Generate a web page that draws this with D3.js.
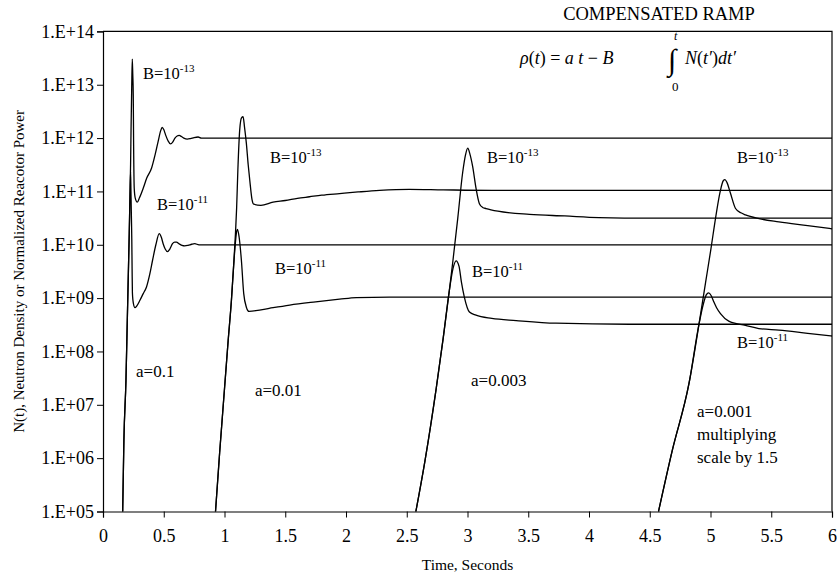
<!DOCTYPE html>
<html>
<head>
<meta charset="utf-8">
<script src="https://cdn.jsdelivr.net/npm/d3@7"></script>
<style>
  html, body { margin: 0; padding: 0; background: #fff; }
  svg { display: block; }
  text { font-family: "Liberation Serif", "Times New Roman", serif; fill: #000; }
</style>
</head>
<body>
<svg id="chart" width="837" height="582"></svg>
<script>
// ---------- DATA (time in seconds, log10 of N(t)) ----------
const xTicks = [0, 0.5, 1, 1.5, 2, 2.5, 3, 3.5, 4, 4.5, 5, 5.5, 6];
const yTickExps = [5, 6, 7, 8, 9, 10, 11, 12, 13, 14];

// a = 0.1, B = 1e-13
const tA1B13 = [0.162,0.172,0.189,0.200,0.210,0.216,0.222,0.227,0.231,0.236,0.241,0.245,0.249,0.252,0.257,0.265,0.282,0.300,0.331,0.360,0.400,0.430,0.454,0.475,0.487,0.500,0.515,0.535,0.556,0.575,0.592,0.610,0.627,0.645,0.665,0.693,0.720,0.750,0.783,0.810,6.0];
const nA1B13 = [5,6.34,7.46,8.59,9.6,10.21,10.9,11.5,12.19,12.9,13.48,13.2,12.81,11.87,11.06,10.88,10.80,10.88,11.06,11.25,11.44,11.7,11.94,12.14,12.2,12.16,12.06,11.95,11.89,11.93,12.0,12.04,12.05,12.03,12.0,11.98,11.99,12.01,12.02,12.0,12.0];

// a = 0.1, B = 1e-11
const tA1B11 = [0.162,0.172,0.189,0.200,0.210,0.216,0.222,0.227,0.230,0.234,0.237,0.2395,0.242,0.250,0.263,0.280,0.304,0.330,0.358,0.385,0.408,0.435,0.463,0.480,0.495,0.512,0.531,0.550,0.572,0.590,0.605,0.625,0.650,0.673,0.700,0.730,0.755,0.790,6.0];
const nA1B11 = [5,6.34,7.46,8.59,9.6,10.21,10.9,11.37,11.0,10.5,10.1,9.55,9.1,8.9,8.82,8.86,8.96,9.08,9.21,9.45,9.71,10.0,10.21,10.14,10.02,9.92,9.87,9.92,10.02,10.05,10.05,10.02,9.99,9.98,9.99,10.01,10.02,10.0,10.0];

// a = 0.01, B = 1e-13
const tA01B13 = [0.926,0.96,1.0,1.03,1.057,1.075,1.09,1.10,1.11,1.125,1.14,1.153,1.165,1.18,1.195,1.208,1.227,1.24,1.30,1.40,1.50,1.60,1.70,1.80,1.947,2.1,2.276,2.52,2.8,3.2,6.0];
const nA01B13 = [5,6.1,7.3,8.2,8.96,9.6,10.2,10.7,11.4,12.15,12.38,12.40,12.2,11.9,11.5,11.21,10.84,10.76,10.74,10.8,10.83,10.87,10.9,10.93,10.96,10.99,11.02,11.04,11.03,11.02,11.02];

// a = 0.01, B = 1e-11
const tA01B11 = [0.926,0.96,1.0,1.03,1.057,1.075,1.09,1.10,1.107,1.12,1.139,1.158,1.18,1.202,1.30,1.40,1.537,1.75,1.947,2.085,2.358,3.0,6.0];
const nA01B11 = [5,6.1,7.3,8.2,8.96,9.6,10.05,10.25,10.29,10.15,9.71,9.09,8.83,8.75,8.78,8.82,8.87,8.93,8.98,9.01,9.02,9.02,9.02];

// a = 0.003, B = 1e-13
const tA003B13 = [2.575,2.65,2.742,2.80,2.851,2.88,2.92,2.96,2.985,3.002,3.02,3.043,3.07,3.098,3.125,3.153,3.25,3.51,3.8,4.08,4.5,6.0];
const nA003B13 = [5,5.95,7.3,8.25,9.15,9.7,10.5,11.35,11.7,11.81,11.7,11.46,11.06,10.77,10.7,10.68,10.63,10.57,10.54,10.51,10.5,10.5];

// a = 0.003, B = 1e-11
const tA003B11 = [2.575,2.65,2.742,2.80,2.851,2.88,2.906,2.93,2.95,2.974,3.016,3.07,3.2,3.4,3.727,4.33,6.0];
const nA003B11 = [5,5.95,7.3,8.25,9.15,9.55,9.70,9.6,9.3,9.02,8.74,8.68,8.62,8.58,8.53,8.51,8.51];

// a = 0.001, B = 1e-13
const tA001B13 = [4.572,4.686,4.823,4.906,4.96,5.002,5.043,5.08,5.105,5.119,5.135,5.165,5.206,5.25,5.288,5.40,5.563,5.8,6.0];
const nA001B13 = [5,6.15,7.40,8.52,9.3,9.90,10.52,11.0,11.2,11.22,11.17,10.96,10.68,10.6,10.56,10.49,10.43,10.36,10.30];

// a = 0.001, B = 1e-11
const tA001B11 = [4.572,4.686,4.823,4.906,4.94,4.965,4.985,5.005,5.027,5.05,5.082,5.15,5.288,5.398,5.563,5.8,6.0];
const nA001B11 = [5,6.15,7.40,8.52,8.88,9.06,9.10,9.05,8.93,8.82,8.71,8.57,8.49,8.43,8.40,8.34,8.29];

const seriesT = [tA1B13, tA1B11, tA01B13, tA01B11, tA003B13, tA003B11, tA001B13, tA001B11];
const seriesN = [nA1B13, nA1B11, nA01B13, nA01B11, nA003B13, nA003B11, nA001B13, nA001B11];

// annotation texts and anchor (t, log10 N)
const bLabelExp = ["-13", "-11", "-13", "-11", "-13", "-11", "-13", "-11"];
const bLabelT   = [0.329, 0.444, 1.374, 1.416, 3.160, 3.037, 5.218, 5.218];
const bLabelN   = [13.11, 10.65, 11.53, 9.45, 11.53, 9.40, 11.53, 8.06];
const aLabelText = ["a=0.1", "a=0.01", "a=0.003", "a=0.001"];
const aLabelT    = [0.272, 1.251, 3.029, 4.889];
const aLabelN    = [7.52, 7.16, 7.35, 6.77];
const aNoteLines = ["multiplying", "scale by 1.5"];

// ---------- CHART ----------
const svg = d3.select("#chart");
const pLeft = 103, pRight = 832, pTop = 31.4, pBottom = 511.5;

const x = d3.scaleLinear().domain([0, 6]).range([pLeft, pRight]);
const y = d3.scaleLog().domain([1e5, 1e14]).range([pBottom, pTop]);

// frame (top and right border)
svg.append("path")
  .attr("d", `M${pLeft},${pTop}H${pRight}V${pBottom}`)
  .attr("fill", "none").attr("stroke", "#000").attr("stroke-width", 1.2);

// axes
const yAxis = d3.axisLeft(y)
  .tickValues(yTickExps.map(e => Math.pow(10, e)))
  .tickFormat(d => "1.E+" + String(Math.round(Math.log10(d))).padStart(2, "0"))
  .tickSize(6).tickPadding(3);
const gy = svg.append("g").attr("transform", `translate(${pLeft},0)`).call(yAxis);

const xAxis = d3.axisBottom(x)
  .tickValues(xTicks)
  .tickFormat(d => String(d))
  .tickSize(6).tickPadding(12);
const gx = svg.append("g").attr("transform", `translate(0,${pBottom})`).call(xAxis);

[gx, gy].forEach(g => {
  g.select(".domain").attr("stroke", "#000").attr("stroke-width", 1.2);
  g.selectAll(".tick line").attr("stroke", "#000").attr("stroke-width", 1);
  g.selectAll(".tick text")
    .style("font-family", '"Liberation Serif", "Times New Roman", serif')
    .style("font-size", "18px").attr("fill", "#000");
});

// curves
const line = d3.line()
  .x(d => x(d[0]))
  .y(d => y(Math.pow(10, d[1])))
  .curve(d3.curveMonotoneX);

seriesT.forEach((ts, i) => {
  const pts = ts.map((t, j) => [t, seriesN[i][j]]);
  svg.append("path")
    .attr("d", line(pts))
    .attr("fill", "none")
    .attr("stroke", "#000")
    .attr("stroke-width", 1.3)
    .attr("stroke-linejoin", "round");
});

// B labels
bLabelT.forEach((t, i) => {
  const tx = svg.append("text")
    .attr("x", x(t)).attr("y", y(Math.pow(10, bLabelN[i])))
    .style("font-size", "16.5px");
  tx.append("tspan").text("B=10");
  tx.append("tspan").attr("dy", -7).style("font-size", "11px").text(bLabelExp[i]);
});

// a labels
aLabelT.forEach((t, i) => {
  svg.append("text")
    .attr("x", x(t)).attr("y", y(Math.pow(10, aLabelN[i])))
    .style("font-size", "17px")
    .text(aLabelText[i]);
});
aNoteLines.forEach((s, i) => {
  svg.append("text")
    .attr("x", x(aLabelT[3])).attr("y", y(Math.pow(10, aLabelN[3])) + 23 * (i + 1))
    .style("font-size", "17px")
    .text(s);
});

// title
svg.append("text").attr("x", 659).attr("y", 20)
  .attr("text-anchor", "middle").style("font-size", "18.5px")
  .text("COMPENSATED RAMP");

// formula
const f = svg.append("text").attr("x", 520).attr("y", 64).style("font-size", "18px");
f.append("tspan").style("font-style", "italic").text("ρ");
f.append("tspan").text("(");
f.append("tspan").style("font-style", "italic").text("t");
f.append("tspan").text(") = ");
f.append("tspan").style("font-style", "italic").text("a t");
f.append("tspan").text(" − ");
f.append("tspan").style("font-style", "italic").text("B");
const intX = 668;
svg.append("text").attr("x", intX).attr("y", 70).style("font-size", "30px")
  .style("font-style", "italic").text("∫");
svg.append("text").attr("x", intX + 6).attr("y", 40).style("font-size", "12px")
  .style("font-style", "italic").text("t");
svg.append("text").attr("x", intX + 4).attr("y", 91).style("font-size", "13px").text("0");
const f2 = svg.append("text").attr("x", intX + 17).attr("y", 64).style("font-size", "18px");
f2.append("tspan").style("font-style", "italic").text("N");
f2.append("tspan").text("(");
f2.append("tspan").style("font-style", "italic").text("t′");
f2.append("tspan").text(")");
f2.append("tspan").style("font-style", "italic").text("dt′");

// axis titles
svg.append("text").attr("x", (pLeft + pRight) / 2).attr("y", 570)
  .attr("text-anchor", "middle").style("font-size", "15.5px")
  .text("Time, Seconds");
svg.append("text")
  .attr("transform", `translate(24,${(pTop + pBottom) / 2}) rotate(-90)`)
  .attr("text-anchor", "middle").style("font-size", "15px")
  .text("N(t), Neutron Density or Normalized Reacotor Power");
</script>
</body>
</html>
